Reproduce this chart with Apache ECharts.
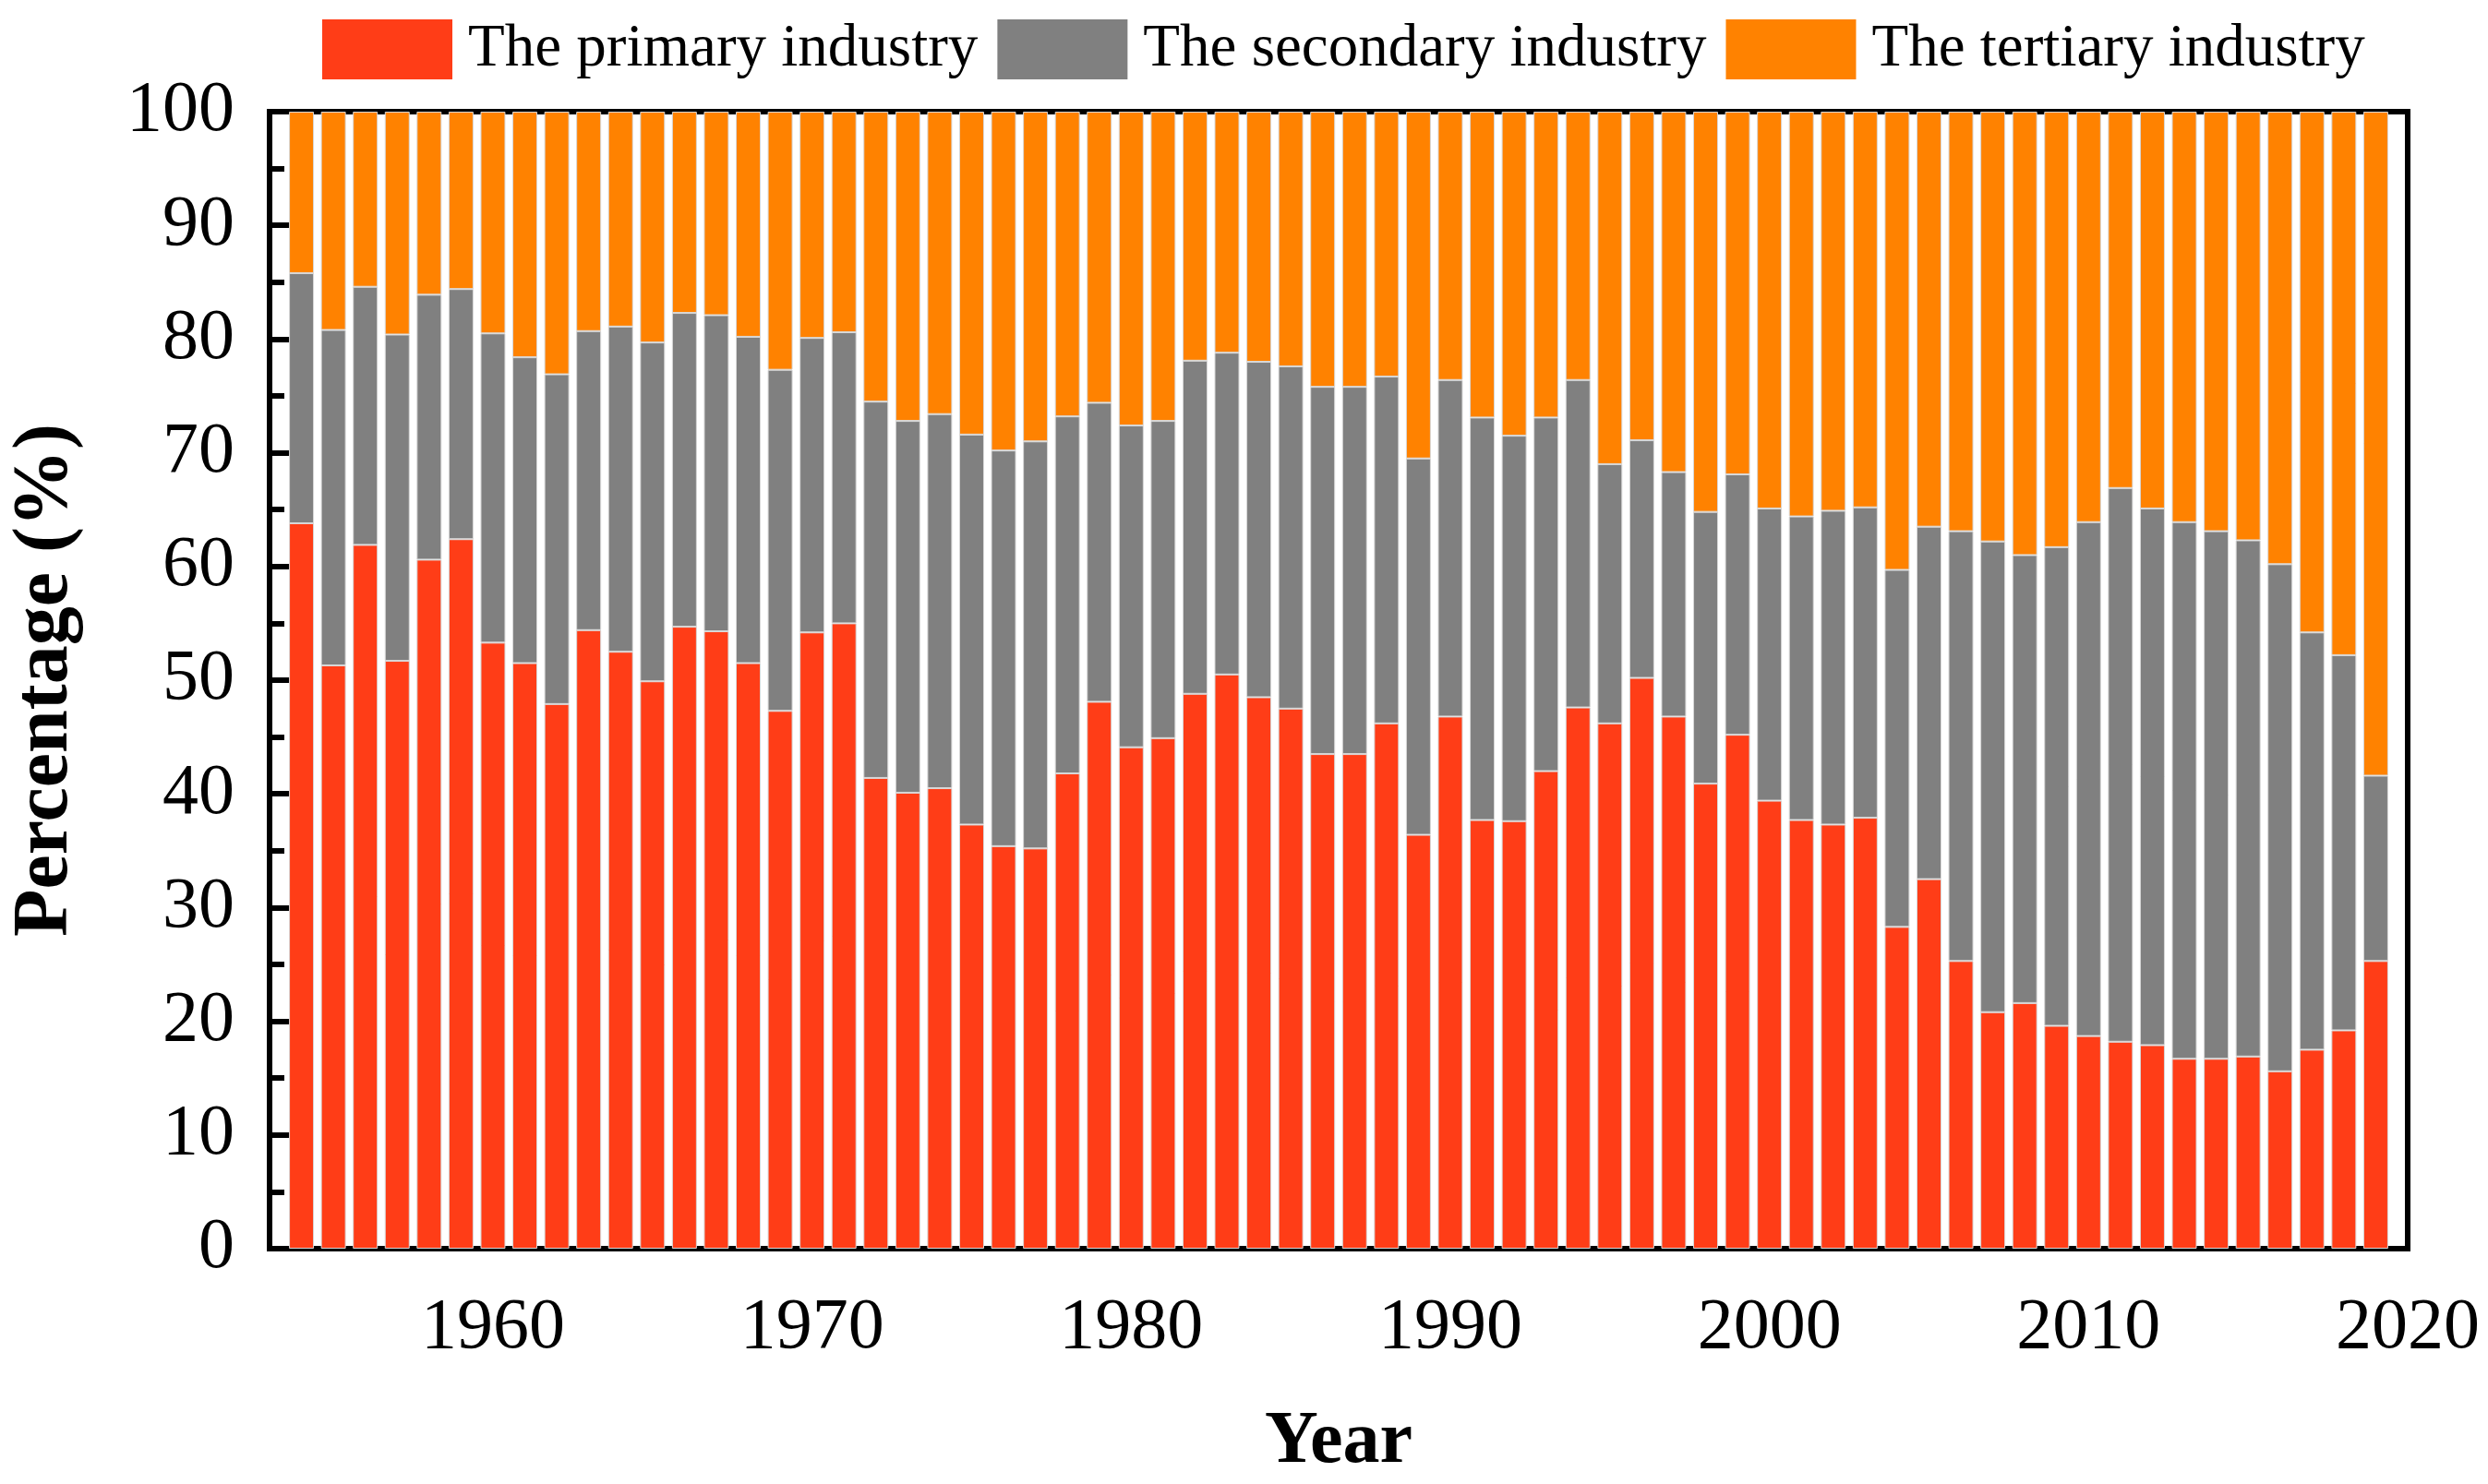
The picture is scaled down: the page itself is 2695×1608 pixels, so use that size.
<!DOCTYPE html>
<html>
<head>
<meta charset="utf-8">
<title>Industry structure</title>
<script src="https://cdn.jsdelivr.net/npm/echarts@6/dist/echarts.min.js"></script>
<style>
html, body { margin: 0; padding: 0; background: #fff; }
#container { width: 2695px; height: 1608px; }
</style>
</head>
<body>
<div id="container"></div>
<script>
// years that have a bar
var years = [1954, 1955, 1956, 1957, 1958, 1959, 1960, 1961, 1962, 1963,
             1964, 1965, 1966, 1967, 1968, 1969, 1970, 1971, 1972, 1973,
             1974, 1975, 1976, 1977, 1978, 1979, 1980, 1981, 1982, 1983,
             1984, 1985, 1986, 1987, 1988, 1989, 1990, 1991, 1992, 1993,
             1994, 1995, 1996, 1997, 1998, 1999, 2000, 2001, 2002, 2003,
             2004, 2005, 2006, 2007, 2008, 2009, 2010, 2011, 2012, 2013,
             2014, 2015, 2016, 2017, 2018, 2019];
// the axis runs one empty year past the bars on each side
var axisYears = ['1953'].concat(years.map(String), ['2020']);

// shares in %
var primary = [63.8, 51.3, 61.9, 51.7, 60.6, 62.4, 53.3, 51.5, 47.9, 54.4,
               52.5, 49.9, 54.7, 54.3, 51.5, 47.3, 54.2, 55.0, 41.4, 40.1,
               40.5, 37.3, 35.4, 35.2, 41.8, 48.1, 44.1, 44.9, 48.8, 50.5,
               48.5, 47.5, 43.5, 43.5, 46.2, 36.4, 46.8, 37.7, 37.6, 42.0,
               47.6, 46.2, 50.2, 46.8, 40.9, 45.2, 39.4, 37.7, 37.3, 37.9,
               28.3, 32.5, 25.3, 20.8, 21.6, 19.6, 18.7, 18.2, 17.9, 16.7,
               16.7, 16.9, 15.6, 17.5, 19.2, 25.3];
var secondary = [22.0, 29.5, 22.7, 28.7, 23.3, 22.0, 27.2, 26.9, 29.0, 26.3,
                 28.6, 29.8, 27.6, 27.8, 28.7, 30.0, 25.9, 25.6, 33.1, 32.7,
                 32.9, 34.3, 34.8, 35.8, 31.4, 26.3, 28.3, 27.9, 29.3, 28.3,
                 29.5, 30.1, 32.3, 32.3, 30.5, 33.1, 29.6, 35.4, 33.9, 31.1,
                 28.8, 22.8, 20.9, 21.5, 23.9, 22.9, 25.7, 26.7, 27.6, 27.3,
                 31.4, 31.0, 37.8, 41.4, 39.4, 42.1, 45.2, 48.7, 47.2, 47.2,
                 46.4, 45.4, 44.6, 36.7, 33.0, 16.3];
var tertiary = [14.2, 19.2, 15.4, 19.6, 16.1, 15.6, 19.5, 21.6, 23.1, 19.3,
                18.9, 20.3, 17.7, 17.9, 19.8, 22.7, 19.9, 19.4, 25.5, 27.2,
                26.6, 28.4, 29.8, 29.0, 26.8, 25.6, 27.6, 27.2, 21.9, 21.2,
                22.0, 22.4, 24.2, 24.2, 23.3, 30.5, 23.6, 26.9, 28.5, 26.9,
                23.6, 31.0, 28.9, 31.7, 35.2, 31.9, 34.9, 35.6, 35.1, 34.8,
                40.3, 36.5, 36.9, 37.8, 39.0, 38.3, 36.1, 33.1, 34.9, 36.1,
                36.9, 37.7, 39.8, 45.8, 47.8, 58.4];

var seriesNames = ['The primary industry', 'The secondary industry', 'The tertiary industry'];
var seriesColors = ['#FF3D17', '#808080', '#FF8200'];

var font = 'Liberation Serif';

// pair every value with its year so the bars land on the padded axis
function pairs(values) {
    var out = [];
    for (var i = 0; i < years.length; i++) {
        out.push([String(years[i]), values[i]]);
    }
    return out;
}

function makeSeries(name, values, color) {
    return {
        name: name,
        type: 'bar',
        stack: 'total',
        xAxisIndex: 0,
        barWidth: 27,
        data: pairs(values),
        itemStyle: { color: color, borderColor: '#d8d8d8', borderWidth: 1 }
    };
}

var dom = document.getElementById('container');
var myChart = echarts.init(dom);
var option = {
    animation: false,
    backgroundColor: '#fff',
    textStyle: { fontFamily: font, color: '#000' },
    legend: {
        left: 349,
        top: 21,
        padding: 0,
        itemWidth: 141,
        itemHeight: 65,
        itemGap: 21,
        icon: 'rect',
        itemStyle: { borderWidth: 0 },
        textStyle: { fontFamily: font, fontSize: 65, color: '#000', padding: [0, 0, 0, 12] },
        data: seriesNames
    },
    grid: {
        left: 279,
        right: 87,
        top: 121,
        bottom: 254,
        show: true,
        borderColor: '#000',
        borderWidth: 6,
        backgroundColor: 'transparent'
    },
    xAxis: [
        {
            type: 'category',
            position: 'bottom',
            data: axisYears,
            boundaryGap: false,
            name: 'Year',
            nameLocation: 'middle',
            nameGap: 170,
            nameTextStyle: { fontFamily: font, fontSize: 80, fontWeight: 'bold', color: '#000' },
            axisLine: { show: true, lineStyle: { color: '#000', width: 6 } },
            axisTick: {
                show: true,
                inside: true,
                length: 33,
                lineStyle: { color: '#000', width: 6 },
                interval: function (i, v) { return Number(v) % 10 === 0; }
            },
            axisLabel: {
                fontFamily: font,
                fontSize: 78,
                color: '#000',
                margin: 48,
                interval: function (i, v) { return Number(v) % 10 === 0; }
            },
            splitLine: { show: false }
        },
        {
            // second axis only for the short ticks at the half decades
            type: 'category',
            position: 'bottom',
            data: axisYears,
            boundaryGap: false,
            axisLine: { show: false },
            axisTick: {
                show: true,
                inside: true,
                length: 15,
                lineStyle: { color: '#000', width: 6 },
                interval: function (i, v) { return Number(v) % 10 === 5; }
            },
            axisLabel: { show: false },
            splitLine: { show: false }
        }
    ],
    yAxis: {
        type: 'value',
        min: 0,
        max: 100,
        interval: 10,
        name: 'Percentage (%)',
        nameLocation: 'middle',
        nameGap: 200,
        nameTextStyle: { fontFamily: font, fontSize: 84, fontWeight: 'bold', color: '#000' },
        axisLine: { show: true, lineStyle: { color: '#000', width: 6 } },
        axisTick: { show: true, inside: true, length: 34, lineStyle: { color: '#000', width: 6 } },
        minorTick: { show: true, splitNumber: 2, length: 16, lineStyle: { color: '#000', width: 6 } },
        axisLabel: { fontFamily: font, fontSize: 78, color: '#000', margin: 38 },
        splitLine: { show: false },
        minorSplitLine: { show: false }
    },
    series: [
        makeSeries(seriesNames[0], primary, seriesColors[0]),
        makeSeries(seriesNames[1], secondary, seriesColors[1]),
        makeSeries(seriesNames[2], tertiary, seriesColors[2])
    ]
};
myChart.setOption(option, true);
</script>
</body>
</html>
